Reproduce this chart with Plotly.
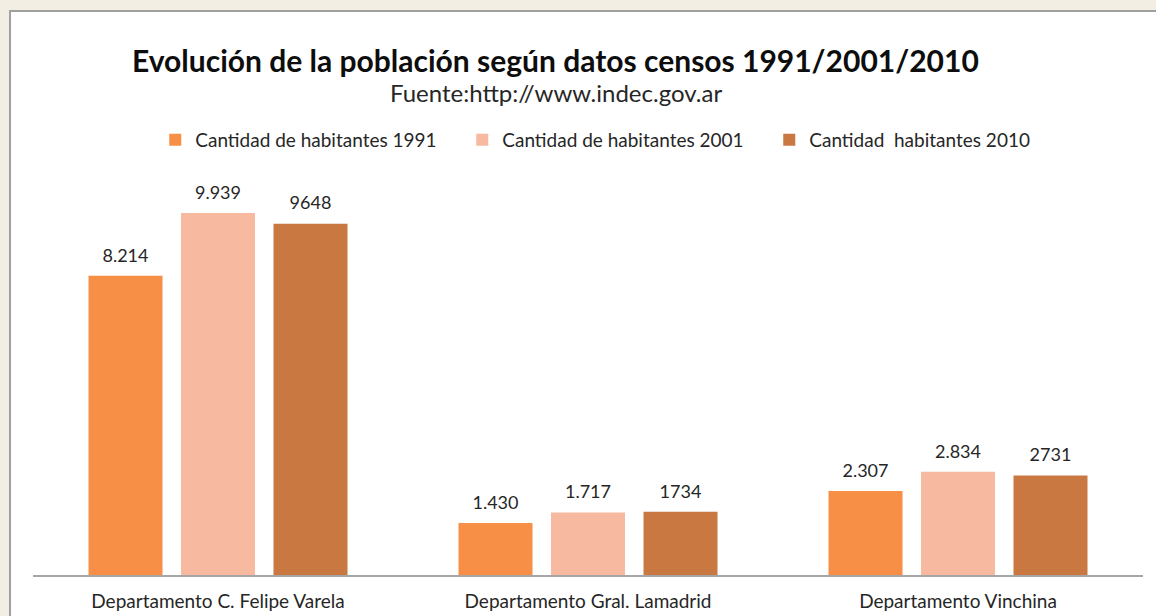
import plotly.graph_objects as go

categories = ["Departamento C. Felipe Varela", "Departamento Gral. Lamadrid", "Departamento Vinchina"]
series_names = ["Cantidad de habitantes 1991", "Cantidad de habitantes 2001", "Cantidad  habitantes 2010"]
values_1991 = [8214, 1430, 2307]
values_2001 = [9939, 1717, 2834]
values_2010 = [9648, 1734, 2731]
labels_1991 = ["8.214", "1.430", "2.307"]
labels_2001 = ["9.939", "1.717", "2.834"]
labels_2010 = ["9648", "1734", "2731"]
colors = ["#F79046", "#F8B9A1", "#C87840"]

FONT = "Lato, 'Open Sans', sans-serif"

fig = go.Figure()
series = list(zip(series_names, [values_1991, values_2001, values_2010],
                  [labels_1991, labels_2001, labels_2010], colors))
for name, vals, labs, col in series:
    fig.add_trace(go.Bar(
        name=name, x=categories, y=vals,
        marker=dict(color=col, line=dict(width=0)),
        hoverinfo="x+y",
    ))
# value labels, grouped the same way as the bars
for name, vals, labs, col in series:
    fig.add_trace(go.Scatter(
        x=categories, y=vals, text=labs, mode="markers+text",
        textposition="top center", cliponaxis=False, showlegend=False, hoverinfo="skip",
        marker=dict(size=14, color="rgba(0,0,0,0)"),
        textfont=dict(family=FONT, size=18, color="#262626"),
    ))

fig.update_layout(
    width=1156, height=616,
    margin=dict(l=33, r=13, t=138, b=41, autoexpand=False),
    paper_bgcolor="#F3EEE4",
    plot_bgcolor="rgba(0,0,0,0)",
    barmode="group", bargap=0.25, bargroupgap=0.2,
    scattermode="group", scattergap=0.25,
    showlegend=True,
    legend=dict(orientation="h", x=0.525, xanchor="center", y=0.9954, yanchor="middle",
                font=dict(family=FONT, size=19, color="#262626"),
                bgcolor="rgba(0,0,0,0)", entrywidth=262, entrywidthmode="pixels",
                traceorder="normal"),
    xaxis=dict(showline=True, linecolor="#A6A6A6", linewidth=2, ticks="",
               tickfont=dict(family=FONT, size=19, color="#262626"),
               ticklabelstandoff=8,
               showgrid=False, zeroline=False),
    yaxis=dict(range=[0, 12000], visible=False, showgrid=False, zeroline=False),
    shapes=[dict(type="rect", xref="paper", yref="paper",
                 x0=-0.0207, x1=1.02, y0=-0.12, y1=1.2906,
                 fillcolor="white", line=dict(color="#A0A0A0", width=2), layer="below")],
    annotations=[
        dict(text="<b>Evolución de la población según datos censos 1991/2001/2010</b>",
             xref="paper", yref="paper", x=0.471, y=1.1785, xanchor="center", yanchor="middle",
             showarrow=False, font=dict(family=FONT, size=30, color="#0D0D0D")),
        dict(text="Fuente:http://www.indec.gov.ar",
             xref="paper", yref="paper", x=0.471, y=1.103, xanchor="center", yanchor="middle",
             showarrow=False, font=dict(family=FONT, size=24, color="#262626")),
    ],
)

fig.write_html(
    "out.html",
    config={"displayModeBar": False},
    post_script="document.body.style.margin='0';document.body.style.background='#F3EEE4';document.body.style.overflow='hidden';",
)
